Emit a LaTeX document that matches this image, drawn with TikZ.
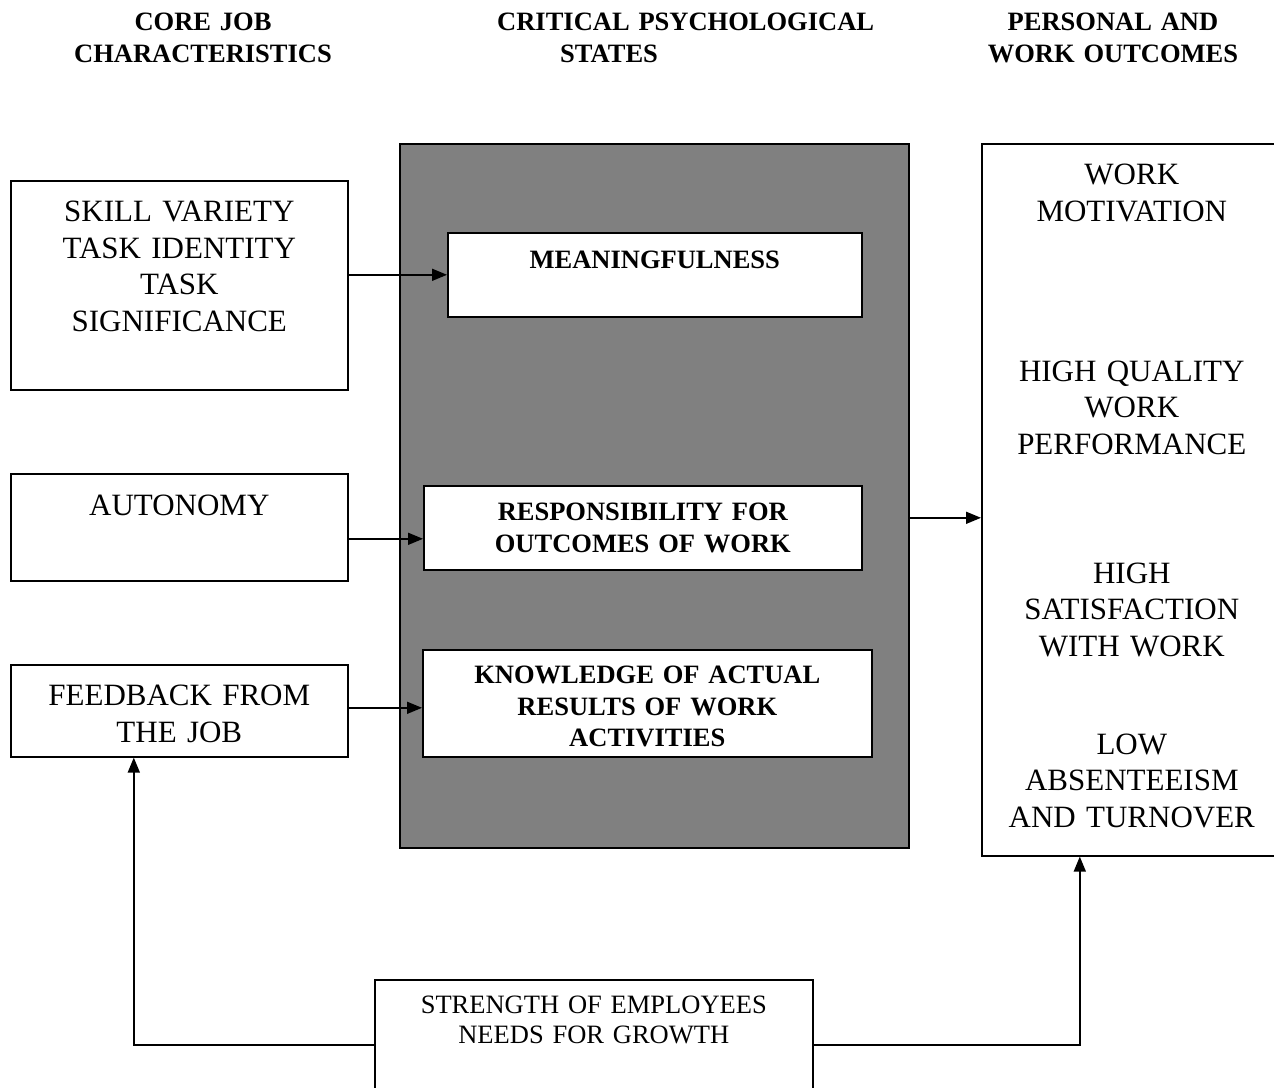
\documentclass[tikz,border=0pt]{standalone}
\usepackage{fontspec}
\setmainfont{Liberation Serif}
\definecolor{stategray}{HTML}{808080}
\usetikzlibrary{arrows.meta, positioning, calc}
\tikzset{
	jobnode/.style={
			shape=rectangle,
			draw=black,
			line width=1.6pt,
			anchor=north west,
			inner sep=0pt,
			align=center,
			font=\fontsize{31}{36.5}\selectfont
		},
	statenode/.style={
			jobnode,
			fill=white,
			font=\bfseries\fontsize{26.5}{31.5}\selectfont
		},
	statebg/.style={
			jobnode,
			fill=stategray,
			minimum width=509pt,
			minimum height=704pt
		},
	growthnode/.style={
			jobnode,
			fill=white,
			font=\fontsize{26.5}{30}\selectfont
		},
	headtext/.style={
			anchor=north,
			inner sep=0pt,
			text width=400pt,
			align=center,
			text height=18pt,
			font=\bfseries\fontsize{26.5}{32}\selectfont
		},
	linkarrow/.style={
			line width=1.6pt,
			-{Triangle[length=15pt,width=12pt]}
		}
}

\begin{document}
\begin{tikzpicture}[x=1pt, y=-1pt]

				\useasboundingbox (0,0) rectangle (1274,1087);

				\node[headtext] (h1) at (203,12) {CORE JOB\\CHARACTERISTICS};
				\node[headtext, anchor=north west, align=left] (h2) at (497,12) {CRITICAL PSYCHOLOGICAL\\\hspace*{63pt}STATES};
				\node[headtext] (h3) at (1113,12) {PERSONAL AND\\WORK OUTCOMES};

				\node[jobnode, text width=337pt, text height=41pt, text depth=168pt] (skill) at (10,180) {SKILL VARIETY\\TASK IDENTITY\\TASK\\SIGNIFICANCE};
				\node[jobnode, text width=337pt, text height=42pt, text depth=65pt] (auto) at (10,473) {AUTONOMY};
				\node[jobnode, text width=337pt, text height=41pt, text depth=51pt] (feed) at (10,664) {FEEDBACK FROM\\THE JOB};

				\node[statebg] (states) at (399,143) {};
				\node[statenode, text width=414pt, text height=36pt, text depth=48pt] (mean) at (447,232) {MEANINGFULNESS};
				\node[statenode, text width=438pt, text height=35pt, text depth=49pt] (resp) at (423,485) {RESPONSIBILITY FOR\\OUTCOMES OF WORK};
				\node[statenode, text width=449pt, text height=34pt, text depth=73pt] (know) at (422,649) {KNOWLEDGE OF ACTUAL\\RESULTS OF WORK\\ACTIVITIES};

				\node[jobnode, text width=300pt, text height=41pt, text depth=671pt] (outc) at (981,143) {WORK\\MOTIVATION\\[123.5pt]HIGH QUALITY\\WORK\\PERFORMANCE\\[92.5pt]HIGH\\SATISFACTION\\WITH WORK\\[61.5pt]LOW\\ABSENTEEISM\\AND TURNOVER};

				\node[growthnode, text width=438pt, text height=34pt, text depth=106pt] (growth) at (374,979) {STRENGTH OF EMPLOYEES\\NEEDS FOR GROWTH};

				\coordinate (ra) at ([yshift=-11pt]resp.west);
				\coordinate (ka) at ([yshift=-4.5pt]know.west);
				\coordinate (ga) at ([yshift=-22pt]states.east);
				\coordinate (gl) at ([yshift=5pt]growth.west);
				\coordinate (gr) at ([yshift=5pt]growth.east);
				\coordinate (fb) at ([xshift=-45.5pt]feed.south);
				\coordinate (ob) at ([xshift=-52pt]outc.south);

				\draw[linkarrow] (skill.east |- mean.west) -- (mean.west);
				\draw[linkarrow] (ra -| auto.east) -- (ra);
				\draw[linkarrow] (ka -| feed.east) -- (ka);
				\draw[linkarrow] (ga) -- (ga -| outc.west);
				\draw[linkarrow] (gl) -| (fb);
				\draw[linkarrow] (gr) -| (ob);

			\end{tikzpicture}
\end{document}
